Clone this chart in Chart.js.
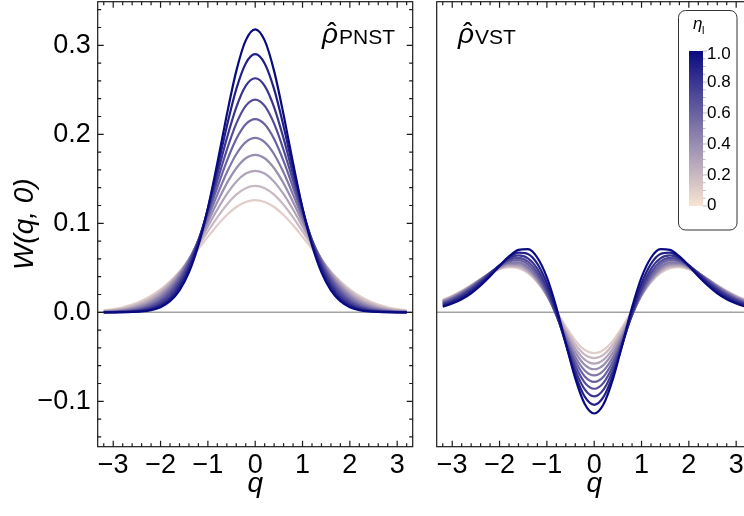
<!DOCTYPE html>
<html>
<head>
<meta charset="utf-8">
<script src="https://cdn.jsdelivr.net/npm/chart.js@4.4.1/dist/chart.umd.min.js"></script>
<style>
  html, body { margin: 0; padding: 0; background: #fff; overflow: hidden; }
  #wrap { position: relative; width: 744px; height: 516px; overflow: hidden; }
  canvas { position: absolute; top: 0; }
  #pnst { left: 0; }
  #vst { left: 420px; }
</style>
</head>
<body>
<div id="wrap">
  <canvas id="pnst" width="420" height="516"></canvas>
  <canvas id="vst" width="340" height="516"></canvas>
</div>
<script>
// q grid shared by every curve
const qValues = [-3.2, -3.0, -2.8, -2.6, -2.4, -2.2, -2.0, -1.8, -1.6, -1.4, -1.2, -1.0, -0.8, -0.6, -0.4, -0.2, 0,
  0.2, 0.4, 0.6, 0.8, 1.0, 1.2, 1.4, 1.6, 1.8, 2.0, 2.2, 2.4, 2.6, 2.8, 3.0, 3.2];

const etaValues = [0.1, 0.2, 0.3, 0.4, 0.5, 0.6, 0.7, 0.8, 0.9, 1.0];

// W(q, 0) for the PNST state, one array per eta
const pnst01 = [0.0022, 0.0036, 0.0057, 0.0087, 0.0129, 0.0186, 0.0259, 0.0349, 0.0457, 0.058, 0.0713, 0.0848, 0.0978, 0.1093, 0.1183, 0.124, 0.126, 0.124, 0.1183, 0.1093, 0.0978, 0.0848, 0.0713, 0.058, 0.0457, 0.0349, 0.0259, 0.0186, 0.0129, 0.0087, 0.0057, 0.0036, 0.0022];
const pnst02 = [0.0015, 0.0026, 0.0043, 0.007, 0.0109, 0.0164, 0.0238, 0.0335, 0.0453, 0.0592, 0.0747, 0.0909, 0.1067, 0.1209, 0.1322, 0.1395, 0.142, 0.1395, 0.1322, 0.1209, 0.1067, 0.0909, 0.0747, 0.0592, 0.0453, 0.0335, 0.0238, 0.0164, 0.0109, 0.007, 0.0043, 0.0026, 0.0015];
const pnst03 = [0.001, 0.0018, 0.0032, 0.0054, 0.0089, 0.0141, 0.0215, 0.0315, 0.0442, 0.0597, 0.0774, 0.0964, 0.1155, 0.1328, 0.1468, 0.1559, 0.159, 0.1559, 0.1468, 0.1328, 0.1155, 0.0964, 0.0774, 0.0597, 0.0442, 0.0315, 0.0215, 0.0141, 0.0089, 0.0054, 0.0032, 0.0018, 0.001];
const pnst04 = [0.0006, 0.0012, 0.0023, 0.0041, 0.0072, 0.012, 0.0191, 0.0292, 0.0426, 0.0595, 0.0795, 0.1015, 0.124, 0.1449, 0.1619, 0.1731, 0.177, 0.1731, 0.1619, 0.1449, 0.124, 0.1015, 0.0795, 0.0595, 0.0426, 0.0292, 0.0191, 0.012, 0.0072, 0.0041, 0.0023, 0.0012, 0.0006];
const pnst05 = [0.0004, 0.0008, 0.0016, 0.0031, 0.0056, 0.01, 0.0167, 0.0267, 0.0405, 0.0586, 0.0808, 0.1059, 0.1322, 0.157, 0.1776, 0.1912, 0.196, 0.1912, 0.1776, 0.157, 0.1322, 0.1059, 0.0808, 0.0586, 0.0405, 0.0267, 0.0167, 0.01, 0.0056, 0.0031, 0.0016, 0.0008, 0.0004];
const pnst06 = [0.0002, 0.0005, 0.001, 0.0022, 0.0043, 0.008, 0.0142, 0.0239, 0.0379, 0.0571, 0.0813, 0.1097, 0.1403, 0.1698, 0.1946, 0.2112, 0.217, 0.2112, 0.1946, 0.1698, 0.1403, 0.1097, 0.0813, 0.0571, 0.0379, 0.0239, 0.0142, 0.008, 0.0043, 0.0022, 0.001, 0.0005, 0.0002];
const pnst07 = [0.0001, 0.0003, 0.0007, 0.0015, 0.0032, 0.0063, 0.0119, 0.021, 0.035, 0.0549, 0.0811, 0.1128, 0.1478, 0.1824, 0.212, 0.2319, 0.239, 0.2319, 0.212, 0.1824, 0.1478, 0.1128, 0.0811, 0.0549, 0.035, 0.021, 0.0119, 0.0063, 0.0032, 0.0015, 0.0007, 0.0003, 0.0001];
const pnst08 = [0.0001, 0.0002, 0.0004, 0.001, 0.0023, 0.0048, 0.0097, 0.0181, 0.0317, 0.0521, 0.08, 0.1151, 0.155, 0.1954, 0.2304, 0.2545, 0.263, 0.2545, 0.2304, 0.1954, 0.155, 0.1151, 0.08, 0.0521, 0.0317, 0.0181, 0.0097, 0.0048, 0.0023, 0.001, 0.0004, 0.0002, 0.0001];
const pnst09 = [0, 0.0001, 0.0002, 0.0006, 0.0015, 0.0035, 0.0076, 0.0151, 0.0282, 0.0486, 0.0781, 0.1166, 0.1619, 0.2089, 0.2507, 0.2796, 0.29, 0.2796, 0.2507, 0.2089, 0.1619, 0.1166, 0.0781, 0.0486, 0.0282, 0.0151, 0.0076, 0.0035, 0.0015, 0.0006, 0.0002, 0.0001, 0];
const pnst10 = [0, 0, 0.0001, 0.0004, 0.001, 0.0025, 0.0058, 0.0125, 0.0246, 0.0448, 0.0753, 0.117, 0.1677, 0.2219, 0.271, 0.3055, 0.318, 0.3055, 0.271, 0.2219, 0.1677, 0.117, 0.0753, 0.0448, 0.0246, 0.0125, 0.0058, 0.0025, 0.001, 0.0004, 0.0001, 0, 0];

// W(q, 0) for the VST state, one array per eta
const vst01 = [0.0139, 0.0186, 0.0242, 0.0305, 0.0371, 0.0434, 0.0483, 0.0507, 0.0496, 0.044, 0.0337, 0.0191, 0.0017, -0.0161, -0.0316, -0.0422, -0.046, -0.0422, -0.0316, -0.0161, 0.0017, 0.0191, 0.0337, 0.044, 0.0496, 0.0507, 0.0483, 0.0434, 0.0371, 0.0305, 0.0242, 0.0186, 0.0139];
const vst02 = [0.0134, 0.0181, 0.0238, 0.0303, 0.0371, 0.0437, 0.049, 0.0518, 0.0509, 0.0453, 0.0344, 0.0189, 0.0003, -0.019, -0.0359, -0.0475, -0.0515, -0.0475, -0.0359, -0.019, 0.0003, 0.0189, 0.0344, 0.0453, 0.0509, 0.0518, 0.049, 0.0437, 0.0371, 0.0303, 0.0238, 0.0181, 0.0134];
const vst03 = [0.0128, 0.0175, 0.0232, 0.0299, 0.0371, 0.044, 0.0498, 0.0531, 0.0525, 0.0468, 0.0355, 0.0191, -0.001, -0.022, -0.0404, -0.0531, -0.0576, -0.0531, -0.0404, -0.022, -0.001, 0.0191, 0.0355, 0.0468, 0.0525, 0.0531, 0.0498, 0.044, 0.0371, 0.0299, 0.0232, 0.0175, 0.0128];
const vst04 = [0.0122, 0.0169, 0.0226, 0.0294, 0.0369, 0.0443, 0.0506, 0.0544, 0.0542, 0.0487, 0.037, 0.0195, -0.0021, -0.0249, -0.0451, -0.059, -0.064, -0.059, -0.0451, -0.0249, -0.0021, 0.0195, 0.037, 0.0487, 0.0542, 0.0544, 0.0506, 0.0443, 0.0369, 0.0294, 0.0226, 0.0169, 0.0122];
const vst05 = [0.0115, 0.0161, 0.0218, 0.0288, 0.0365, 0.0444, 0.0513, 0.0558, 0.0562, 0.0508, 0.0388, 0.0203, -0.003, -0.0277, -0.0499, -0.0653, -0.0708, -0.0653, -0.0499, -0.0277, -0.003, 0.0203, 0.0388, 0.0508, 0.0562, 0.0558, 0.0513, 0.0444, 0.0365, 0.0288, 0.0218, 0.0161, 0.0115];
const vst06 = [0.0106, 0.0151, 0.0209, 0.0279, 0.0359, 0.0443, 0.052, 0.0574, 0.0586, 0.0537, 0.0414, 0.0219, -0.0031, -0.0303, -0.0548, -0.072, -0.0781, -0.072, -0.0548, -0.0303, -0.0031, 0.0219, 0.0414, 0.0537, 0.0586, 0.0574, 0.052, 0.0443, 0.0359, 0.0279, 0.0209, 0.0151, 0.0106];
const vst07 = [0.0097, 0.0141, 0.0197, 0.0268, 0.0351, 0.0441, 0.0526, 0.0589, 0.0611, 0.0569, 0.0447, 0.0242, -0.0028, -0.0326, -0.0598, -0.079, -0.0859, -0.079, -0.0598, -0.0326, -0.0028, 0.0242, 0.0447, 0.0569, 0.0611, 0.0589, 0.0526, 0.0441, 0.0351, 0.0268, 0.0197, 0.0141, 0.0097];
const vst08 = [0.0087, 0.0128, 0.0183, 0.0254, 0.0339, 0.0434, 0.0528, 0.0604, 0.0639, 0.0607, 0.0488, 0.0275, -0.0016, -0.0344, -0.0649, -0.0866, -0.0944, -0.0866, -0.0649, -0.0344, -0.0016, 0.0275, 0.0488, 0.0607, 0.0639, 0.0604, 0.0528, 0.0434, 0.0339, 0.0254, 0.0183, 0.0128, 0.0087];
const vst09 = [0.0075, 0.0113, 0.0166, 0.0236, 0.0323, 0.0423, 0.0527, 0.0618, 0.0671, 0.0655, 0.0544, 0.0325, 0.0011, -0.0354, -0.07, -0.0948, -0.1039, -0.0948, -0.07, -0.0354, 0.0011, 0.0325, 0.0544, 0.0655, 0.0671, 0.0618, 0.0527, 0.0423, 0.0323, 0.0236, 0.0166, 0.0113, 0.0075];
const vst10 = [0.0063, 0.0098, 0.0147, 0.0214, 0.0301, 0.0405, 0.052, 0.0628, 0.0702, 0.0709, 0.0613, 0.0392, 0.0056, -0.0349, -0.0743, -0.1031, -0.1137, -0.1031, -0.0743, -0.0349, 0.0056, 0.0392, 0.0613, 0.0709, 0.0702, 0.0628, 0.052, 0.0405, 0.0301, 0.0214, 0.0147, 0.0098, 0.0063];

// axis ticks
const xTicks = [-3, -2, -1, 0, 1, 2, 3];
const xTickLabels = ['\u22123', '\u22122', '\u22121', '0', '1', '2', '3'];
const yTicks = [-0.1, 0, 0.1, 0.2, 0.3];
const yTickLabels = ['\u22120.1', '0.0', '0.1', '0.2', '0.3'];
const barTicks = [0, 0.2, 0.4, 0.6, 0.8, 1.0];
const barTickLabels = ['0', '0.2', '0.4', '0.6', '0.8', '1.0'];

const FONT = "'Liberation Sans', Arial, sans-serif";
const INK = '#1a1a1a';
const barLow = [248, 228, 210];
const barHigh = [10, 10, 128];

function mixColor(t) {
  const c = barLow.map((lo, i) => Math.round(lo + (barHigh[i] - lo) * t));
  return `rgb(${c[0]}, ${c[1]}, ${c[2]})`;
}

function buildDatasets(seriesList) {
  return seriesList.map((vals, i) => ({
    data: vals.map((v, j) => ({ x: qValues[j], y: v })),
    borderColor: mixColor(etaValues[i]),
    // darkest curve ends up on top
    order: seriesList.length - 1 - i
  }));
}

function drawPanelLabel(ctx, name, x, baseline) {
  ctx.fillStyle = '#000';
  ctx.textAlign = 'left';
  ctx.textBaseline = 'alphabetic';
  ctx.font = `italic 28px ${FONT}`;
  ctx.fillText('\u03C1', x, baseline);
  const w = ctx.measureText('\u03C1').width;
  // hat over rho
  ctx.font = `28px ${FONT}`;
  ctx.textAlign = 'center';
  ctx.fillText('\u02C6', x + w / 2 + 2, baseline - 1);
  ctx.textAlign = 'left';
  ctx.font = `21px ${FONT}`;
  ctx.fillText(name, x + w + 1, baseline + 1);
}

function roundedRect(ctx, x, y, w, h, r) {
  ctx.beginPath();
  ctx.moveTo(x + r, y);
  ctx.arcTo(x + w, y, x + w, y + h, r);
  ctx.arcTo(x + w, y + h, x, y + h, r);
  ctx.arcTo(x, y + h, x, y, r);
  ctx.arcTo(x, y, x + w, y, r);
  ctx.closePath();
}

function drawColorBar(ctx) {
  const box = { x: 258.5, y: 10.5, w: 58.5, h: 219.5 };
  const bar = { x: 269, top: 51, bottom: 206, w: 14 };
  ctx.save();
  ctx.fillStyle = '#fff';
  roundedRect(ctx, box.x, box.y, box.w, box.h, 7);
  ctx.fill();
  ctx.strokeStyle = '#333';
  ctx.lineWidth = 1;
  ctx.stroke();

  const grad = ctx.createLinearGradient(0, bar.top, 0, bar.bottom);
  grad.addColorStop(0, mixColor(1));
  grad.addColorStop(1, mixColor(0));
  ctx.fillStyle = grad;
  ctx.fillRect(bar.x, bar.top, bar.w, bar.bottom - bar.top);

  const yOf = v => bar.bottom - v * (bar.bottom - bar.top);
  ctx.strokeStyle = '#aaa';
  ctx.lineWidth = 0.8;
  ctx.beginPath();
  for (let k = 0; k <= 20; k++) {
    const py = yOf(k / 20);
    const len = k % 4 === 0 ? 4 : 2.5;
    ctx.moveTo(bar.x + bar.w, py);
    ctx.lineTo(bar.x + bar.w + len, py);
  }
  ctx.stroke();

  ctx.fillStyle = '#000';
  ctx.font = `17px ${FONT}`;
  ctx.textAlign = 'left';
  ctx.textBaseline = 'middle';
  barTicks.forEach((v, i) => {
    ctx.fillText(barTickLabels[i], bar.x + bar.w + 4, Math.min(Math.max(yOf(v), 54), 205));
  });

  ctx.textBaseline = 'alphabetic';
  ctx.font = `italic 17px ${FONT}`;
  ctx.fillText('\u03B7', 273, 29);
  ctx.font = `11px ${FONT}`;
  ctx.fillText('l', 282, 34);
  ctx.restore();
}

// zero line, closed frame with inward ticks, panel label
const framePlugin = {
  id: 'framePlugin',
  beforeDatasetsDraw(chart) {
    const { ctx, chartArea: a, scales: { y } } = chart;
    const y0 = y.getPixelForValue(0);
    ctx.save();
    ctx.strokeStyle = '#a3a3a3';
    ctx.lineWidth = 1.4;
    ctx.beginPath();
    ctx.moveTo(a.left, y0);
    ctx.lineTo(a.right, y0);
    ctx.stroke();
    ctx.restore();
  },
  afterDatasetsDraw(chart, args, opts) {
    const { ctx, chartArea: a, scales: { x, y } } = chart;
    ctx.save();
    ctx.strokeStyle = INK;
    ctx.lineWidth = 1.2;
    ctx.strokeRect(a.left, a.top, a.right - a.left, a.bottom - a.top);
    ctx.beginPath();
    for (let k = -16; k <= 16; k++) {
      const px = x.getPixelForValue(k / 5);
      const len = k % 5 === 0 ? 6 : 3.5;
      ctx.moveTo(px, a.bottom);
      ctx.lineTo(px, a.bottom - len);
      ctx.moveTo(px, a.top);
      ctx.lineTo(px, a.top + len);
    }
    if (opts.yTicks) {
      for (let k = -7; k <= 17; k++) {
        const py = y.getPixelForValue(k / 50);
        const len = k % 5 === 0 ? 6 : 3.5;
        ctx.moveTo(a.left, py);
        ctx.lineTo(a.left + len, py);
        ctx.moveTo(a.right, py);
        ctx.lineTo(a.right - len, py);
      }
    }
    ctx.stroke();
    drawPanelLabel(ctx, opts.name, opts.labelX, 43);
    if (opts.colorBar) drawColorBar(ctx);
    ctx.restore();
  }
};

// labels sit well inside the frame, so the scales need no edge padding
function noEdgePadding(axis) {
  axis.paddingTop = 0;
  axis.paddingBottom = 0;
  axis.paddingLeft = 0;
  axis.paddingRight = 0;
}

function xScale(height) {
  return {
    type: 'linear',
    min: -3.328,
    max: 3.328,
    grid: { display: false, drawTicks: false },
    border: { display: false },
    afterBuildTicks: axis => { axis.ticks = xTicks.map(v => ({ value: v })); },
    afterFit: axis => { axis.height = height; noEdgePadding(axis); },
    ticks: {
      autoSkip: false,
      maxRotation: 0,
      padding: 3,
      color: '#000',
      font: { family: FONT, size: 27 },
      callback: (v, i) => xTickLabels[i]
    },
    title: {
      display: true,
      text: 'q',
      color: '#000',
      font: { family: FONT, size: 28, style: 'italic' },
      padding: { top: 0, bottom: 15 }
    }
  };
}

const commonElements = {
  point: { radius: 0 },
  line: { borderWidth: 2.2, cubicInterpolationMode: 'monotone', fill: false }
};

new Chart(document.getElementById('pnst'), {
  type: 'line',
  data: { datasets: buildDatasets([pnst01, pnst02, pnst03, pnst04, pnst05, pnst06, pnst07, pnst08, pnst09, pnst10]) },
  options: {
    responsive: false,
    animation: false,
    layout: { padding: { top: 1.7, right: 7.3, left: 0, bottom: 0 } },
    elements: commonElements,
    plugins: {
      legend: { display: false },
      tooltip: { enabled: false },
      framePlugin: { yTicks: true, name: 'PNST', labelX: 322 }
    },
    scales: {
      x: xScale(69.3),
      y: {
        type: 'linear',
        min: -0.151,
        max: 0.349,
        grid: { display: false, drawTicks: false },
        border: { display: false },
        afterBuildTicks: axis => { axis.ticks = yTicks.map(v => ({ value: v })); },
        afterFit: axis => { axis.width = 97.7; noEdgePadding(axis); },
        ticks: {
          padding: 7,
          color: '#000',
          font: { family: FONT, size: 27 },
          callback: (v, i) => yTickLabels[i]
        },
        title: {
          display: true,
          text: 'W(q, 0)',
          color: '#000',
          font: { family: FONT, size: 28, style: 'italic' },
          padding: { top: 8, bottom: 0 }
        }
      }
    }
  },
  plugins: [framePlugin]
});

new Chart(document.getElementById('vst'), {
  type: 'line',
  data: { datasets: buildDatasets([vst01, vst02, vst03, vst04, vst05, vst06, vst07, vst08, vst09, vst10]) },
  options: {
    responsive: false,
    animation: false,
    layout: { padding: { top: 1.7, right: 8.3, left: 16.7, bottom: 0 } },
    elements: commonElements,
    plugins: {
      legend: { display: false },
      tooltip: { enabled: false },
      framePlugin: { yTicks: false, name: 'VST', labelX: 38, colorBar: true }
    },
    scales: {
      x: xScale(69.3),
      y: { type: 'linear', min: -0.151, max: 0.349, display: false }
    }
  },
  plugins: [framePlugin]
});
</script>
</body>
</html>
